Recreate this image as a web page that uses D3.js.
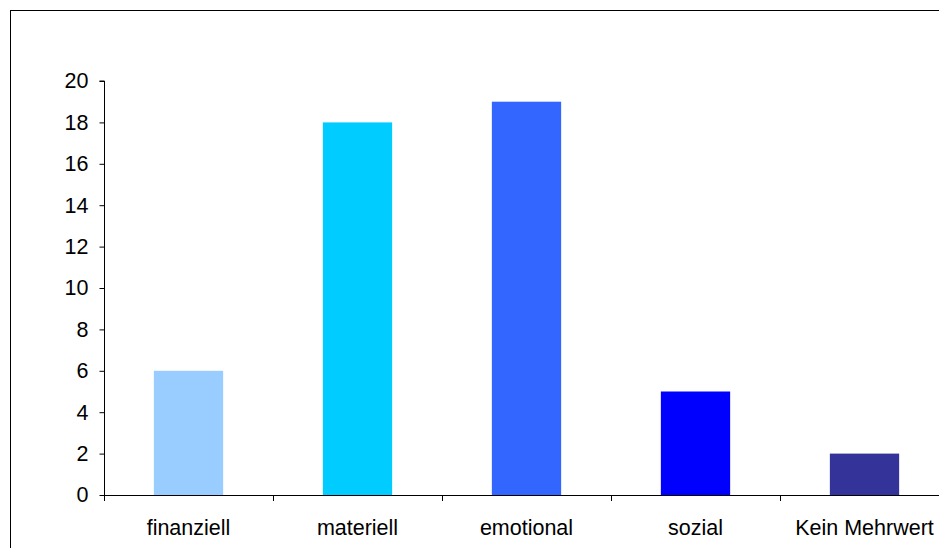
<!DOCTYPE html>
<html>
<head>
<meta charset="utf-8">
<script src="https://cdn.jsdelivr.net/npm/d3@7"></script>
<style>
  body { margin: 0; background: #fff; }
  svg { display: block; font-family: "Liberation Sans", Arial, sans-serif; }
</style>
</head>
<body>
<svg id="chart" width="939" height="548"></svg>
<script>
// Mehrwert chart

var categories = ["finanziell", "materiell", "emotional", "sozial", "Kein Mehrwert"];
var values = [6, 18, 19, 5, 2];
var colors = ["#99CCFF", "#00CCFF", "#3366FF", "#0000FF", "#333399"];
var yTicks = [0, 2, 4, 6, 8, 10, 12, 14, 16, 18, 20];

var svg = d3.select("#chart");

// outer frame, runs off the right and bottom edge
svg.append("rect")
  .attr("x", 10.5).attr("y", 10.5)
  .attr("width", 1000).attr("height", 1000)
  .attr("fill", "none").attr("stroke", "#000").attr("stroke-width", 1);

var x = d3.scaleBand()
  .domain(categories)
  .range([104, 949])
  .paddingInner(0.59)
  .paddingOuter(0.295);

var y = d3.scaleLinear()
  .domain([0, 20])
  .range([495, 81]);

// bars
svg.append("g").selectAll("rect")
  .data(values)
  .enter().append("rect")
  .attr("x", function (d, i) { return x(categories[i]); })
  .attr("y", function (d) { return y(d); })
  .attr("width", x.bandwidth())
  .attr("height", function (d) { return y(0) - y(d); })
  .attr("fill", function (d, i) { return colors[i]; });

// y axis
var yAxis = svg.append("g")
  .attr("transform", "translate(104.5,0)")
  .call(d3.axisLeft(y).tickValues(yTicks).tickSize(5).tickPadding(11));
yAxis.selectAll("text").attr("font-size", 21.5).attr("fill", "#000")
  .attr("font-family", "Liberation Sans, Arial, sans-serif");
yAxis.selectAll("line, path").attr("stroke", "#000");
yAxis.select(".domain").attr("d", "M-5," + y(20) + "H0V" + y(0));

// x axis: ticks at band boundaries
var bounds = categories.map(function (c) {
  return x(c) - x.step() * x.paddingInner() / 2;
});
var xg = svg.append("g");
xg.append("line")
  .attr("x1", 104).attr("x2", 939)
  .attr("y1", y(0) + 0.5).attr("y2", y(0) + 0.5)
  .attr("stroke", "#000");
xg.selectAll("line.tick")
  .data(bounds)
  .enter().append("line")
  .attr("class", "tick")
  .attr("x1", function (d, i) { return i === 0 ? 104.5 : Math.round(d) + 0.5; })
  .attr("x2", function (d, i) { return i === 0 ? 104.5 : Math.round(d) + 0.5; })
  .attr("y1", y(0)).attr("y2", y(0) + 6)
  .attr("stroke", "#000");
xg.selectAll("text")
  .data(categories)
  .enter().append("text")
  .attr("x", function (c) { return x(c) + x.bandwidth() / 2; })
  .attr("y", 535)
  .attr("text-anchor", "middle")
  .attr("font-size", 21.5)
  .attr("fill", "#000")
  .text(function (c) { return c; });
</script>
</body>
</html>
